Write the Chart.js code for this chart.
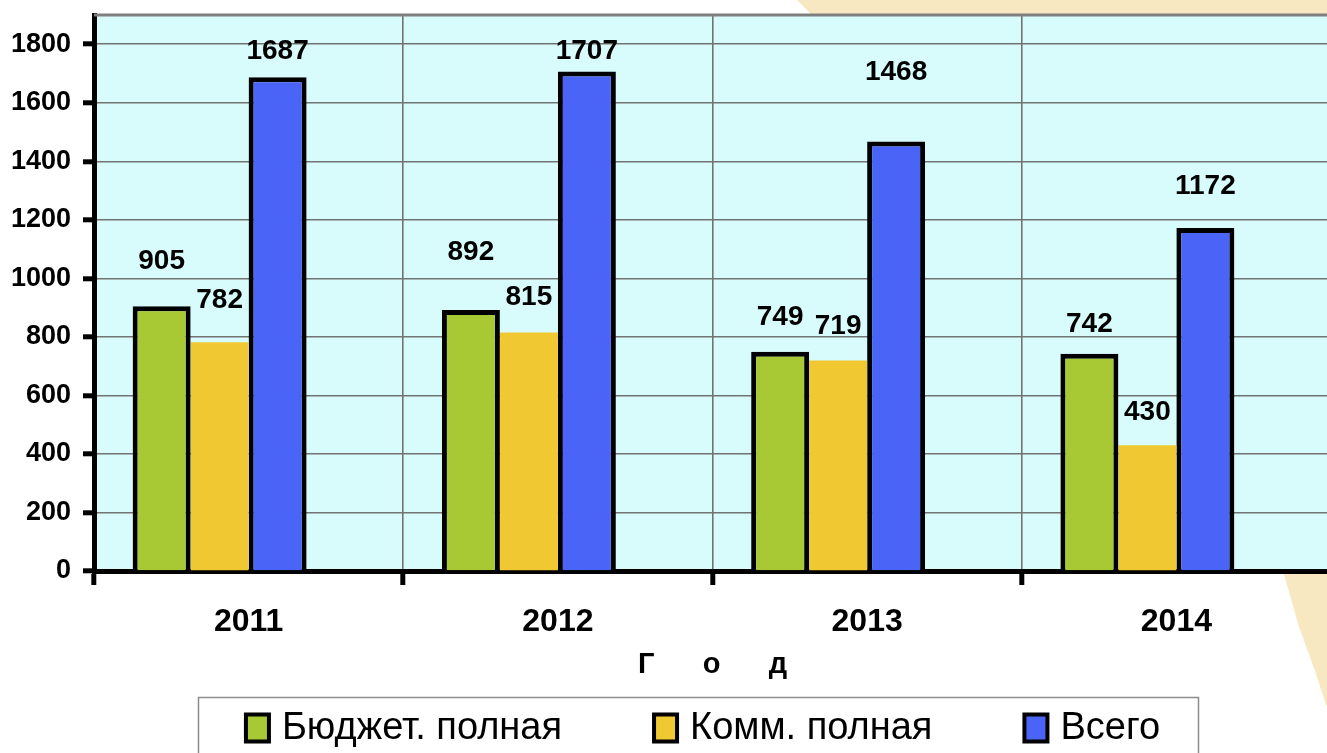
<!DOCTYPE html>
<html><head><meta charset="utf-8">
<style>
html,body{margin:0;padding:0;background:#fff;overflow:hidden;width:1327px;height:753px}
canvas{display:block}
</style>
<script src="https://cdn.jsdelivr.net/npm/chart.js@4/dist/chart.umd.min.js"></script>
</head><body>
<canvas id="c" width="1340" height="753"></canvas>
<script>
const categories = ['2011', '2012', '2013', '2014'];
const seriesNames = ['Бюджет. полная', 'Комм. полная', 'Всего'];
const budgetFull = [905, 892, 749, 742];
const commFull = [782, 815, 719, 430];
const totalAll = [1687, 1707, 1468, 1172];
const emptySeries = [null, null, null, null];
const yTickValues = [0, 200, 400, 600, 800, 1000, 1200, 1400, 1600, 1800];
const axisTitle = 'Г      о      д';

const colors = ['#a8c934', '#efc832', '#4a64f8'];
const labelGap = [[45, 58, 35, 30], [42, 35, 34, 33], [26, 20, 69, 42]];
const FONT = '"Liberation Sans", Arial, sans-serif';
Chart.defaults.font.family = FONT;

const decor = {
  id: 'decor',
  beforeDraw(chart) {
    const {ctx, chartArea: a} = chart;
    ctx.save();
    ctx.fillStyle = '#f8e8c2';
    ctx.beginPath();
    ctx.moveTo(797, 0); ctx.lineTo(1340, 0); ctx.lineTo(1340, a.top); ctx.lineTo(812, a.top);
    ctx.closePath(); ctx.fill();
    ctx.beginPath();
    ctx.moveTo(1283, a.bottom); ctx.lineTo(1340, a.bottom); ctx.lineTo(1340, 712);
    ctx.lineTo(1326, 705); ctx.lineTo(1314, 668); ctx.lineTo(1299, 627);
    ctx.closePath(); ctx.fill();
    ctx.fillStyle = '#d8fcfc';
    ctx.fillRect(a.left, a.top, a.right - a.left, a.bottom - a.top);
    ctx.restore();
  },
  beforeDatasetsDraw(chart) {
    const {ctx, chartArea: a} = chart;
    ctx.save();
    ctx.strokeStyle = '#7f7f7f';
    ctx.lineWidth = 3;
    ctx.beginPath(); ctx.moveTo(a.left, a.top); ctx.lineTo(a.right, a.top); ctx.stroke();
    ctx.restore();
  },
  afterDatasetsDraw(chart) {
    const ctx = chart.ctx;
    ctx.save();
    ctx.font = 'bold 28px ' + FONT;
    ctx.fillStyle = '#000';
    ctx.textAlign = 'center';
    ctx.textBaseline = 'middle';
    [0, 1, 2].forEach(di => {
      const meta = chart.getDatasetMeta(di);
      meta.data.forEach((bar, i) => {
        const v = chart.data.datasets[di].data[i];
        ctx.fillText(String(v), bar.x, bar.y - labelGap[di][i]);
      });
    });
    ctx.restore();
  },
  afterDraw(chart) {
    const ctx = chart.ctx;
    ctx.save();
    ctx.strokeStyle = '#8c8c8c';
    ctx.lineWidth = 1.5;
    ctx.strokeRect(198.5, 697.5, 1000, 90);
    ctx.font = '38px ' + FONT;
    const boxW = 27, boxH = 31, gapBT = 11, gapItem = 90;
    const names = chart.data.datasets.slice(0, 3).map(d => d.label);
    const widths = names.map(t => ctx.measureText(t).width);
    const total = widths.reduce((s, w) => s + boxW + gapBT + w, 0) + gapItem * (widths.length - 1);
    let x = 702 - total / 2;
    const yMid = 728;
    names.forEach((t, i) => {
      ctx.fillStyle = '#000';
      ctx.fillRect(x, yMid - boxH / 2, boxW, boxH);
      ctx.fillStyle = colors[i];
      ctx.fillRect(x + 4, yMid - boxH / 2 + 4, boxW - 8, boxH - 8);
      ctx.fillStyle = '#000';
      ctx.textAlign = 'left';
      ctx.textBaseline = 'middle';
      ctx.fillText(t, x + boxW + gapBT, yMid + 1);
      x += boxW + gapBT + widths[i] + gapItem;
    });
    ctx.restore();
  }
};

new Chart(document.getElementById('c'), {
  type: 'bar',
  data: {
    labels: categories,
    datasets: [
      {label: seriesNames[0], data: budgetFull, backgroundColor: colors[0], borderColor: '#000', borderWidth: 5, borderSkipped: 'start'},
      {label: seriesNames[1], data: commFull, backgroundColor: colors[1], borderWidth: 0},
      {label: seriesNames[2], data: totalAll, backgroundColor: colors[2], borderColor: '#000', borderWidth: 5, borderSkipped: 'start'},
      {label: '', data: emptySeries, backgroundColor: 'rgba(0,0,0,0)'}
    ]
  },
  options: {
    responsive: false,
    animation: false,
    events: [],
    categoryPercentage: 0.75,
    barPercentage: 1.0,
    layout: {padding: {top: 15, right: 9, left: 0, bottom: 0}},
    plugins: {legend: {display: false}, tooltip: {enabled: false}, title: {display: false}},
    scales: {
      x: {
        grid: {offset: true, color: '#727272', lineWidth: 1.6, tickColor: '#000', tickWidth: 5, tickLength: 14},
        border: {color: '#000', width: 5},
        ticks: {font: {size: 32, weight: 'bold'}, color: '#000', padding: 18, maxRotation: 0},
        title: {display: true, text: axisTitle, font: {size: 29, weight: 'bold'}, color: '#000', padding: {top: 0, bottom: 71}},
        afterFit: s => { s.height = 182; s.paddingLeft = 0; s.paddingRight = 0; }
      },
      y: {
        min: 0,
        max: 1900,
        afterBuildTicks: s => { s.ticks = yTickValues.map(v => ({value: v})); },
        grid: {color: '#727272', lineWidth: 1.6, tickColor: '#000', tickWidth: 5, tickLength: 11},
        border: {color: '#000', width: 5},
        ticks: {font: {size: 27, weight: 'bold'}, color: '#000', padding: 12, callback: v => String(v)},
        afterFit: s => { s.width = 94; s.paddingTop = 0; s.paddingBottom = 0; }
      }
    }
  },
  plugins: [decor]
});
</script>
</body></html>
